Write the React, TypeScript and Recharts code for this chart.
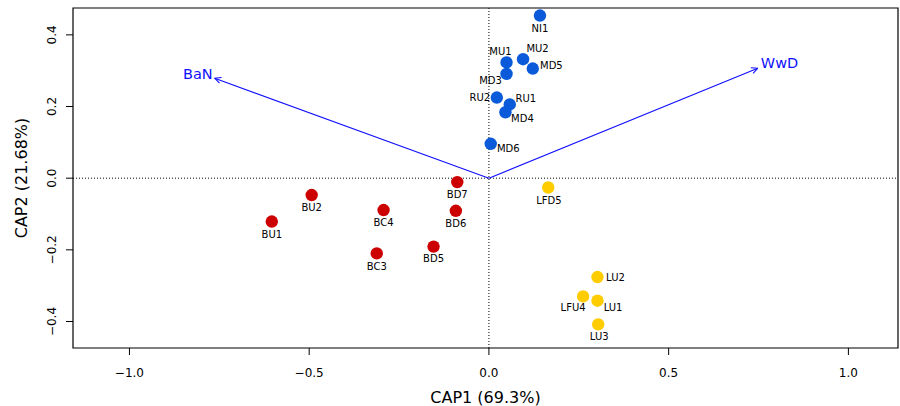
import React from 'react';
import { ScatterChart, Scatter, XAxis, YAxis, ReferenceLine, ReferenceArea } from 'recharts';

const blueNames = ['NI1', 'MU1', 'MD3', 'MU2', 'MD5', 'RU2', 'RU1', 'MD4', 'MD6'];
const blueX = [0.142, 0.049, 0.049, 0.095, 0.122, 0.022, 0.058, 0.046, 0.005];
const blueY = [0.454, 0.323, 0.291, 0.332, 0.306, 0.225, 0.206, 0.184, 0.096];

const redNames = ['BD7', 'BU2', 'BU1', 'BC4', 'BD6', 'BC3', 'BD5'];
const redX = [-0.088, -0.493, -0.604, -0.293, -0.092, -0.312, -0.154];
const redY = [-0.011, -0.047, -0.121, -0.089, -0.091, -0.210, -0.191];

const yellowNames = ['LFD5', 'LU2', 'LFU4', 'LU1', 'LU3'];
const yellowX = [0.165, 0.302, 0.262, 0.302, 0.304];
const yellowY = [-0.026, -0.276, -0.330, -0.342, -0.408];

const vectorNames = ['BaN', 'WwD'];
const vectorX = [-0.763, 0.748];
const vectorY = [0.279, 0.307];

const xTicks = [-1.0, -0.5, 0.0, 0.5, 1.0];
const yTicks = [-0.4, -0.2, 0.0, 0.2, 0.4];
const xDomain: [number, number] = [-1.157, 1.138];
const yDomain: [number, number] = [-0.474, 0.475];

// label placement (pixel offsets from point centre)
const labelOffset: Record<string, [number, number]> = {
  NI1: [0, 13], MU1: [-6, -10.5], MD3: [-16, 7], MU2: [14.5, -11], MD5: [18.6, -2.7],
  RU2: [-17, 0], RU1: [16, -6], MD4: [17, 6.7], MD6: [17.6, 4.3],
  BD7: [0, 12.5], BU2: [0, 12.5], BU1: [0, 13], BC4: [0, 12.8], BD6: [0, 12.3], BC3: [0, 12.6], BD5: [0, 12.3],
  LFD5: [0.7, 13.3], LU2: [18, 0], LFU4: [-10, 11], LU1: [15.6, 6.7], LU3: [1, 12.4],
};

const BLUE = '#0A5AD9';
const RED = '#CC0000';
const YELLOW = '#FFCC00';
const ARROW = '#1010FF';
const FONT = 'DejaVu Sans, Verdana, sans-serif';

const build = (names: string[], xs: number[], ys: number[]) =>
  names.map((n, i) => ({ x: xs[i], y: ys[i], name: n }));

const blueData = build(blueNames, blueX, blueY);
const redData = build(redNames, redX, redY);
const yellowData = build(yellowNames, yellowX, yellowY);

const fmt = (v: number) => (v < 0 ? '\u2212' + Math.abs(v).toFixed(1) : v.toFixed(1));

const pointShape = (color: string) => (props: any) => {
  const { cx, cy, payload } = props;
  const off = labelOffset[payload.name] || [0, 12];
  return (
    <g>
      <circle cx={cx} cy={cy} r={6.2} fill={color} />
      <text
        x={cx + off[0]}
        y={cy + off[1]}
        textAnchor="middle"
        dominantBaseline="central"
        fontFamily={FONT}
        fontSize={10}
        fill="#000"
      >
        {payload.name}
      </text>
    </g>
  );
};

const arrowShape = (name: string) => (p: any) => {
  const { x1, y1, x2, y2 } = p;
  const ang = Math.atan2(y2 - y1, x2 - x1);
  const L = 7;
  const a1 = ang + Math.PI - 0.45;
  const a2 = ang + Math.PI + 0.45;
  const left = x2 < x1;
  return (
    <g>
      <line x1={x1} y1={y1} x2={x2} y2={y2} stroke={ARROW} strokeWidth={1.1} />
      <line x1={x2} y1={y2} x2={x2 + L * Math.cos(a1)} y2={y2 + L * Math.sin(a1)} stroke={ARROW} strokeWidth={1.1} />
      <line x1={x2} y1={y2} x2={x2 + L * Math.cos(a2)} y2={y2 + L * Math.sin(a2)} stroke={ARROW} strokeWidth={1.1} />
      <text
        x={left ? x2 - 2 : x2 + 3}
        y={left ? y2 - 4 : y2 - 5}
        textAnchor={left ? 'end' : 'start'}
        dominantBaseline="central"
        fontFamily={FONT}
        fontSize={14.5}
        fill={ARROW}
      >
        {name}
      </text>
    </g>
  );
};

const XTick = (props: any) => {
  const { x, y, payload } = props;
  return (
    <text x={x} y={y + 16} textAnchor="middle" dominantBaseline="central" fontFamily={FONT} fontSize={12} fill="#000">
      {fmt(payload.value)}
    </text>
  );
};

const YTick = (props: any) => {
  const { x, y, payload } = props;
  const cx = x - 12;
  return (
    <text
      x={cx}
      y={y}
      transform={`rotate(-90, ${cx}, ${y})`}
      textAnchor="middle"
      dominantBaseline="central"
      fontFamily={FONT}
      fontSize={12}
      fill="#000"
    >
      {fmt(payload.value)}
    </text>
  );
};

export default function App() {
  return (
    <div style={{ position: 'absolute', left: 0, top: 0, width: 900, height: 406, background: '#fff' }}>
      <ScatterChart width={900} height={406} margin={{ top: 8, right: 2, left: 0, bottom: 0 }}>
        <XAxis
          type="number"
          dataKey="x"
          domain={xDomain}
          ticks={xTicks}
          allowDataOverflow
          axisLine={false}
          tickLine={{ stroke: '#000' }}
          tickSize={7}
          height={58}
          tick={<XTick />}
          label={{
            content: (lp: any) => (
              <text
                x={lp.viewBox.x + lp.viewBox.width / 2}
                y={397}
                textAnchor="middle"
                dominantBaseline="central"
                fontFamily={FONT}
                fontSize={16}
                fill="#000"
              >
                CAP1 (69.3%)
              </text>
            ),
          }}
        />
        <YAxis
          type="number"
          dataKey="y"
          domain={yDomain}
          ticks={yTicks}
          allowDataOverflow
          axisLine={false}
          tickLine={{ stroke: '#000' }}
          tickSize={7}
          width={73}
          tick={<YTick />}
          label={{
            content: (lp: any) => {
              const cy = lp.viewBox.y + lp.viewBox.height / 2;
              return (
                <text
                  x={21}
                  y={cy}
                  transform={`rotate(-90, 21, ${cy})`}
                  textAnchor="middle"
                  dominantBaseline="central"
                  fontFamily={FONT}
                  fontSize={16}
                  fill="#000"
                >
                  CAP2 (21.68%)
                </text>
              );
            },
          }}
        />
        <ReferenceLine x={0} stroke="#000" strokeDasharray="1 2" strokeWidth={1} />
        <ReferenceLine y={0} stroke="#000" strokeDasharray="1 2" strokeWidth={1} />
        {vectorNames.map((n, i) => (
          <ReferenceLine
            key={n}
            segment={[{ x: 0, y: 0 }, { x: vectorX[i], y: vectorY[i] }]}
            ifOverflow="visible"
            shape={arrowShape(n)}
          />
        ))}
        <Scatter data={redData} shape={pointShape(RED)} isAnimationActive={false} />
        <Scatter data={yellowData} shape={pointShape(YELLOW)} isAnimationActive={false} />
        <Scatter data={blueData} shape={pointShape(BLUE)} isAnimationActive={false} />
        <ReferenceArea
          x1={xDomain[0]}
          x2={xDomain[1]}
          y1={yDomain[0]}
          y2={yDomain[1]}
          fill="none"
          stroke="#000"
          strokeWidth={1.2}
          ifOverflow="visible"
        />
      </ScatterChart>
    </div>
  );
}
